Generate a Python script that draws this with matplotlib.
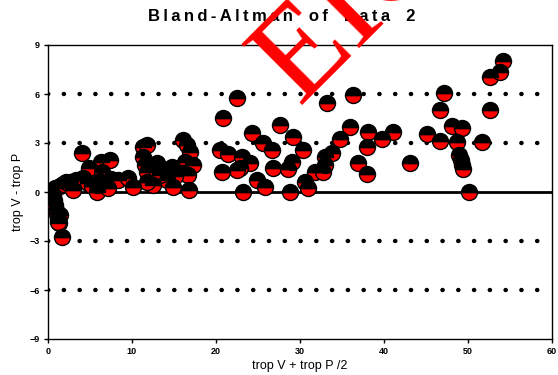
import matplotlib
matplotlib.use("Agg")
import matplotlib.pyplot as plt

mean_vals = [0.6, 0.7, 0.8, 1.0, 1.1, 1.2, 1.3, 1.7, 0.8, 1.4, 1.2,
             1.4, 1.8, 2.1, 2.6, 3.0, 3.3, 3.8, 4.0, 4.2, 4.8, 4.9, 5.2,
             5.8, 5.8, 6.2, 6.3, 6.4, 7.1, 7.4, 7.5, 8.3, 9.5, 10.1,
             11.3, 11.8, 11.3, 11.5, 11.8, 12.5, 11.8, 13.0, 13.0, 13.9,
             14.2, 14.8, 14.9, 13.3, 16.1, 16.5, 16.9, 16.3, 17.3, 16.1,
             16.7, 16.8, 15.1,
             22.5, 20.8, 20.5, 21.4, 23.1, 24.0, 22.9, 22.5, 20.7, 23.2,
             24.3, 25.6, 26.7, 24.9, 25.8, 26.8, 27.6, 28.6, 29.0, 28.8,
             29.2, 30.4, 30.6, 31.0, 31.8, 32.7, 33.0, 33.0, 33.8, 33.2,
             34.8, 36.0, 36.3, 36.9, 38.0, 38.0, 38.1, 39.8, 41.1, 43.1,
             45.1, 46.7, 46.7, 47.1, 48.1, 49.3, 48.7, 49.0, 49.2, 49.3,
             49.4, 50.1, 51.7, 52.6, 52.6, 53.8, 54.2]
diff_vals = [-0.18, -0.5, -0.8, -1.1, -1.35, -1.65, -1.9, -2.75, 0.25, -1.4, -1.85,
             0.35, 0.5, 0.6, 0.6, 0.12, 0.75, 0.75, 2.4, 0.85, 0.55, 1.45, 0.35,
             0.0, 0.43, 0.67, 1.85, 1.22, 0.25, 1.96, 0.8, 0.73, 0.86, 0.3,
             2.75, 2.88, 2.14, 1.65, 1.22, 0.43, 0.61, 1.78, 1.22, 1.35,
             0.73, 1.53, 0.3, 1.04, 3.18, 2.88, 2.45, 1.84, 1.65, 1.16,
             1.04, 0.12, 0.98,
             5.76, 4.53, 2.57, 2.33, 2.14, 1.78, 1.47, 1.35, 1.22, 0.0,
             3.61, 3.0, 2.57, 0.73, 0.3, 1.47, 4.1, 1.41, 1.84, 0.0,
             3.37, 2.57, 0.61, 0.25, 1.22, 1.22, 1.65, 2.14, 2.39, 5.45,
             3.25, 3.98, 5.94, 1.78, 2.76, 1.1, 3.67, 3.25, 3.67, 1.78,
             3.55, 3.12, 5.02, 6.06, 4.04, 3.92, 3.06, 2.27, 1.96, 1.65,
             1.41, 0.0, 3.06, 5.02, 7.04, 7.35, 8.02]

ref_lines = [6, 3, -3, -6]
x_ticks = [0, 10, 20, 30, 40, 50, 60]
y_ticks = [-9, -6, -3, 0, 3, 6, 9]

plt.rcParams['font.family'] = ['Liberation Sans', 'DejaVu Sans']

fig = plt.figure(figsize=(5.58, 3.75), dpi=100)
ax = fig.add_axes([0.086, 0.096, 0.903, 0.784])

# dotted reference lines and solid zero line
for yv in ref_lines:
    ax.axhline(yv, color='black', lw=3.2, linestyle=(0, (0.05, 3.5)),
               dash_capstyle='round', zorder=1)
ax.axhline(0, color='black', lw=2, zorder=1)

# half black / half red circles
ax.plot(mean_vals, diff_vals, linestyle='none', marker='o', markersize=11.5,
        fillstyle='bottom', markerfacecolor='#ff0000', markerfacecoloralt='black',
        markeredgecolor='black', markeredgewidth=1, zorder=3)

ax.set_xlim(0, 60)
ax.set_ylim(-9, 9)
ax.set_xticks(x_ticks)
ax.set_yticks(y_ticks)
ax.tick_params(direction='out', length=3, width=1, labelsize=6.5, pad=3)
for lbl in ax.get_xticklabels() + ax.get_yticklabels():
    lbl.set_fontweight('bold')
for sp in ax.spines.values():
    sp.set_linewidth(1)

ax.set_xlabel('trop V + trop P /2', fontsize=9, labelpad=3)
ax.set_ylabel('trop V - trop P', fontsize=9, labelpad=4)

title = '\u2009'.join('Bland-Altman of Data 2').replace(' ', '  ')
fig.text(0.505, 0.955, title, ha='center', va='center', fontsize=12,
         fontweight='bold')

# red watermark, runs off the top edge
fig.text(0.535, 0.72, 'EIC', color='#ff0000', fontsize=95, rotation=45,
         rotation_mode='anchor', ha='left', va='baseline',
         family=['Liberation Serif', 'DejaVu Serif'], zorder=10)

fig.savefig('out.png', dpi=100)
